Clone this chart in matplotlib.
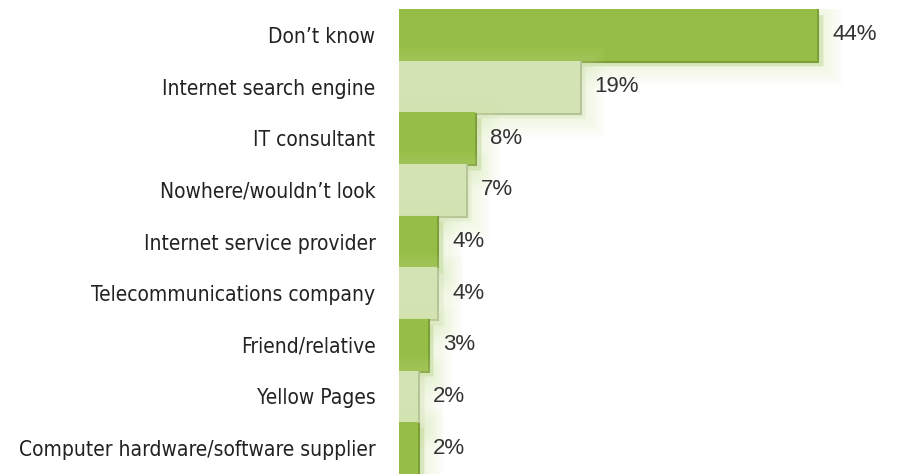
import matplotlib
matplotlib.use('Agg')
import matplotlib.pyplot as plt
import matplotlib.patheffects as pe

categories = [
    "Don\u2019t know",
    "Internet search engine",
    "IT consultant",
    "Nowhere/wouldn\u2019t look",
    "Internet service provider",
    "Telecommunications company",
    "Friend/relative",
    "Yellow Pages",
    "Computer hardware/software supplier",
]
values = [44, 19, 8, 7, 4, 4, 3, 2, 2]

dark_green = '#96be46'
light_green = '#d4e3b4'
edge_dark = '#7d9f3a'
edge_light = '#b5c497'

fig = plt.figure(figsize=(8.97, 4.74), dpi=100)
ax = fig.add_axes([399 / 897, 0, 498 / 897, 465 / 474])

y = list(range(len(categories)))
for i, (cat, val) in enumerate(zip(categories, values)):
    face = dark_green if i % 2 == 0 else light_green
    edge = edge_dark if i % 2 == 0 else edge_light
    # soft halo offset to the lower right
    glow = [pe.Stroke(offset=(4, -4), linewidth=w, foreground='#d2e6a6', alpha=0.045)
            for w in (28, 24, 20, 16, 12, 8, 4)]
    shadow = [pe.Stroke(offset=(1, -1), linewidth=1.5, foreground=edge)]
    ax.barh(i, val, height=1.0, color=face, linewidth=0,
            path_effects=glow + shadow + [pe.Normal()])
    ax.text(val + 1.6, i, f'{val}%', va='center', ha='left',
            fontsize=16, color='#333333', family='Liberation Sans')

ax.set_xlim(0, 498 / 9.5)
ax.set_ylim(len(categories) - 0.5, -0.5)
ax.set_yticks(y)
ax.set_yticklabels(categories, fontsize=15, color='#222222',
                   family='DejaVu Sans', fontstretch='condensed')
ax.tick_params(axis='y', length=0, pad=17)
ax.set_xticks([])
for s in ax.spines.values():
    s.set_visible(False)

fig.savefig('out.png', dpi=100)
